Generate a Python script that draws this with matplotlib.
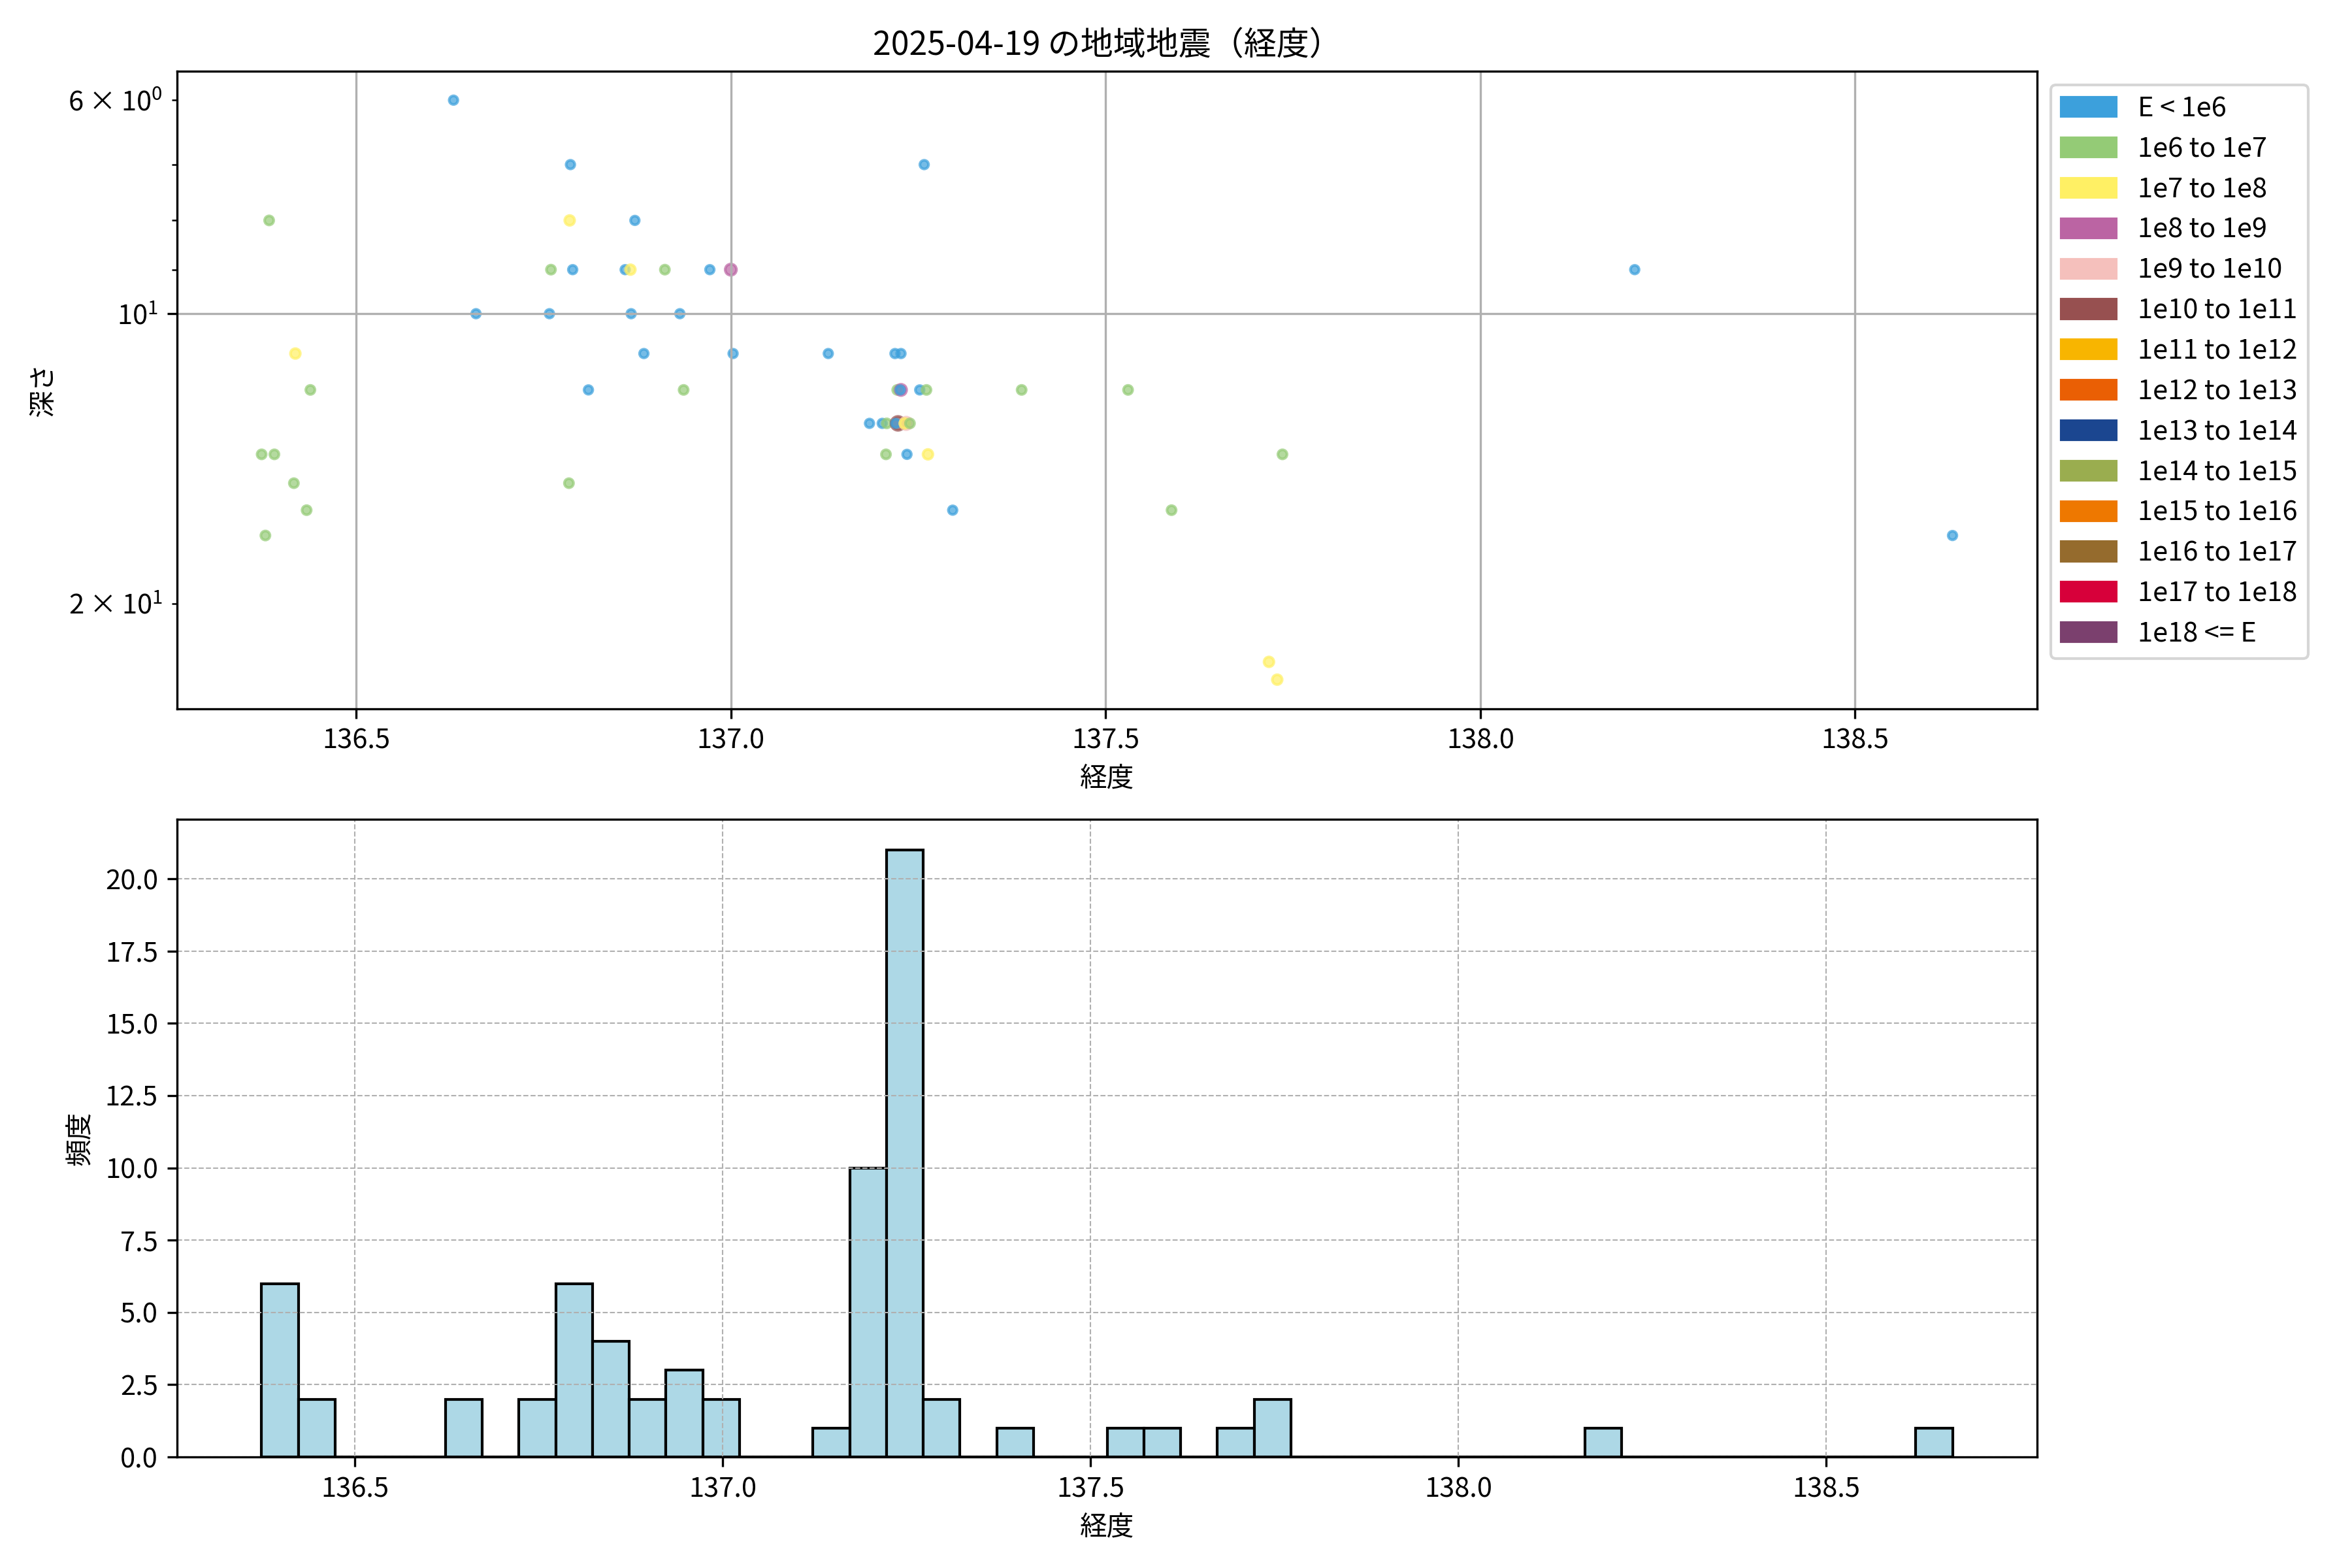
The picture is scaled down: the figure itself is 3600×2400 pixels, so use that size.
import matplotlib.pyplot as plt
import matplotlib.patches as mpatches
import numpy as np

plt.rcParams['font.family'] = ['Noto Sans CJK JP', 'DejaVu Sans']

TITLE = "2025-04-19 の地域地震（経度）"

# エネルギー階級の凡例
energy_labels = [
    "E < 1e6", "1e6 to 1e7", "1e7 to 1e8", "1e8 to 1e9", "1e9 to 1e10",
    "1e10 to 1e11", "1e11 to 1e12", "1e12 to 1e13", "1e13 to 1e14",
    "1e14 to 1e15", "1e15 to 1e16", "1e16 to 1e17", "1e17 to 1e18", "1e18 <= E",
]
energy_colors = [
    "#3ca0dc", "#94cb76", "#fff064", "#bb64a3", "#f5c0bc", "#975050", "#f8b500",
    "#ea5f04", "#1b4690", "#9aad4f", "#ee7800", "#956b2d", "#d7003a", "#7b406e",
]
class_sizes = [10, 11, 13, 17, 21, 26, 30, 35, 40, 45, 50, 55, 60, 65]

# 震源 (経度, 深さ km, エネルギー階級)
eq_lon = [
    136.630, 136.786, 137.258,
    136.384, 136.785, 136.872,
    136.760, 136.789, 136.859, 136.866, 136.912, 136.972, 137.000, 138.206,
    136.660, 136.758, 136.867, 136.932,
    136.419, 136.884, 137.003, 137.130, 137.219, 137.227,
    136.439, 136.810, 136.937, 137.222, 137.227, 137.226, 137.252, 137.261, 137.388, 137.530,
    137.185, 137.202, 137.208, 137.223, 137.220, 137.234, 137.232, 137.239,
    136.374, 136.391, 137.207, 137.235, 137.263, 137.736,
    136.417, 136.784,
    136.434, 137.296, 137.588,
    136.379, 138.630,
    137.718, 137.729,
]
eq_depth = [
    6, 7, 7,
    8, 8, 8,
    9, 9, 9, 9, 9, 9, 9, 9,
    10, 10, 10, 10,
    11, 11, 11, 11, 11, 11,
    12, 12, 12, 12, 12, 12, 12, 12, 12, 12,
    13, 13, 13, 13, 13, 13, 13, 13,
    14, 14, 14, 14, 14, 14,
    15, 15,
    16, 16, 16,
    17, 17,
    23, 24,
]
eq_class = [
    0, 0, 0,
    1, 2, 0,
    1, 0, 0, 2, 1, 0, 3, 0,
    0, 0, 0, 0,
    2, 0, 0, 0, 0, 0,
    1, 0, 1, 1, 3, 0, 0, 1, 1, 1,
    0, 0, 1, 5, 0, 4, 2, 1,
    1, 1, 1, 0, 2, 1,
    1, 1,
    1, 0, 1,
    1, 0,
    2, 2,
]

# 経度ヒストグラム (ビン範囲と度数)
hist_lo, hist_hi = 136.373, 138.672
hist_counts = [
    6, 2, 0, 0, 0, 2, 0, 2, 6, 4, 2, 3, 2, 0, 0, 1, 10, 21, 2, 0, 1, 0, 0,
    1, 1, 0, 1, 2, 0, 0, 0, 0, 0, 0, 0, 0, 1, 0, 0, 0, 0, 0, 0, 0, 0, 1,
]


def main() -> None:
    fig, (ax1, ax2) = plt.subplots(2, 1, figsize=(12, 8))
    fig.subplots_adjust(left=0.0753, right=0.8661, top=0.9546, bottom=0.0708, hspace=0.174)

    colors = [energy_colors[k] for k in eq_class]
    sizes = [class_sizes[k] for k in eq_class]
    ax1.scatter(eq_lon, eq_depth, c=colors, s=sizes, alpha=0.7, linewidths=1.0)
    ax1.set_yscale("log")
    ax1.invert_yaxis()
    ax1.set_xlabel("経度")
    ax1.set_ylabel("深さ")
    ax1.set_title(TITLE)
    ax1.grid(True)
    handles = [mpatches.Patch(color=c, label=l) for c, l in zip(energy_colors, energy_labels)]
    ax1.legend(handles=handles, loc="upper left", bbox_to_anchor=(1, 1))

    edges = np.linspace(hist_lo, hist_hi, len(hist_counts) + 1)
    centers = (edges[:-1] + edges[1:]) / 2
    ax2.hist(centers, bins=edges, weights=hist_counts, color="lightblue", edgecolor="black")
    ax2.set_xlabel("経度")
    ax2.set_ylabel("頻度")
    ax2.grid(True, linestyle="--", linewidth=0.5)

    fig.savefig("out.png", dpi=300)
    plt.close(fig)


if __name__ == "__main__":
    main()
